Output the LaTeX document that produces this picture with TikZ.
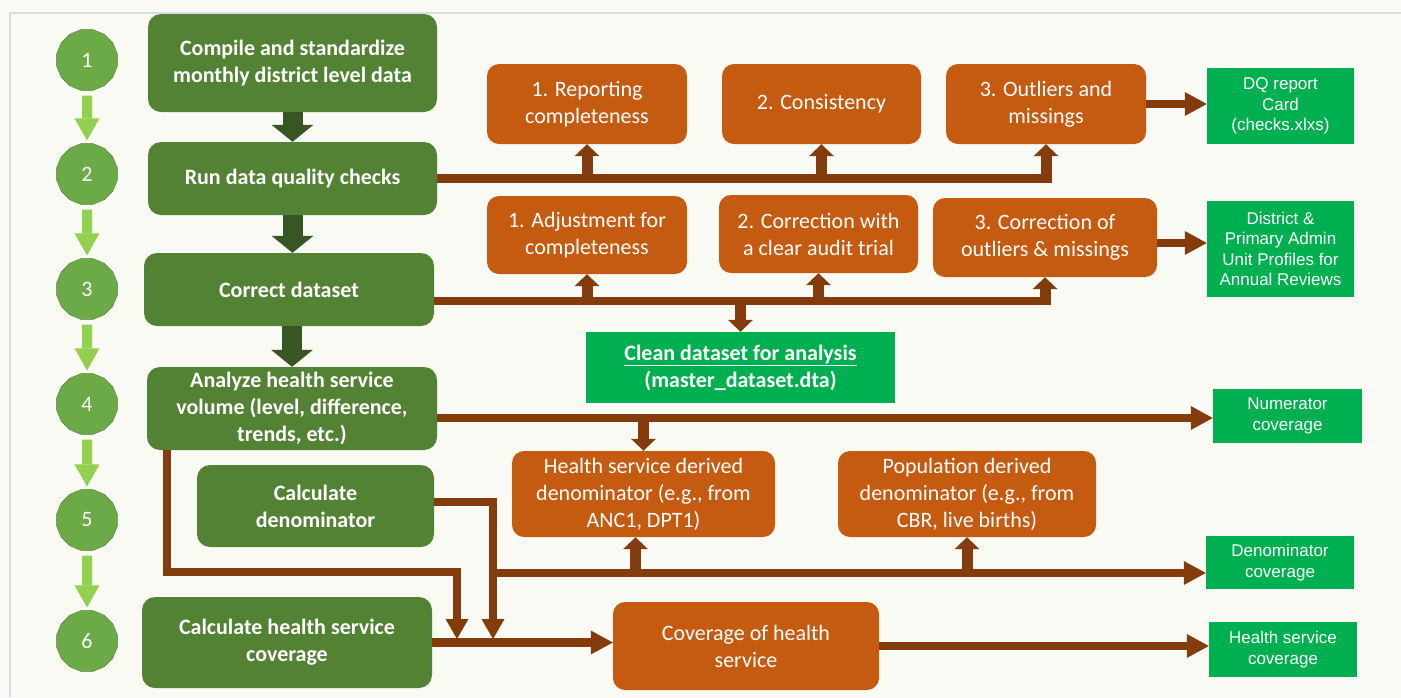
\documentclass[tikz,border=0pt]{standalone}
\usepackage{fontspec}
\setmainfont{Carlito}
\newfontfamily\arialfont{Liberation Sans}
\usetikzlibrary{arrows.meta,shapes.geometric,positioning}

\definecolor{paper}{RGB}{250,250,245}
\definecolor{frameline}{RGB}{214,220,229}
\definecolor{stepgreen}{RGB}{84,130,53}
\definecolor{darkgreen}{RGB}{55,86,35}
\definecolor{numgreen}{RGB}{108,170,72}
\definecolor{lightgreen}{RGB}{146,208,80}
\definecolor{chkorange}{RGB}{197,90,17}
\definecolor{pipebrown}{RGB}{132,60,12}
\definecolor{outgreen}{RGB}{0,176,80}

\begin{document}
\begin{tikzpicture}[
x=1pt, y=-1pt,
stepbox/.style={fill=stepgreen, text=white, rounded corners=13pt, align=center,
    inner sep=0pt, font=\fontsize{22}{27}\selectfont\bfseries},
numcirc/.style={regular polygon, regular polygon sides=16, minimum size=62pt,
    inner sep=0pt, fill=numgreen, draw=stepgreen, text=white, font=\fontsize{22}{26}\selectfont},
check/.style={fill=chkorange, text=white, rounded corners=12pt, align=center,
    inner sep=0pt, font=\fontsize{22}{27}\selectfont},
result/.style={fill=outgreen, text=white, align=center, inner sep=0pt,
    font=\arialfont\fontsize{17}{20.5}\selectfont},
steparrow/.style={draw=lightgreen, line width=10pt, shorten <=5pt, shorten >=3pt,
    -{Triangle[width=25pt,length=22pt,line width=0pt]}},
fatarrow/.style={draw=darkgreen, line width=20pt,
    -{Triangle[width=42pt,length=17pt,line width=0pt]}},
pipe/.style={draw=pipebrown, line width=8.5pt},
bigtip/.style={-{Triangle[width=24pt,length=22pt,line width=0pt]}},
midtip/.style={-{Triangle[width=23pt,length=20pt,line width=0pt]}},
tap/.style={draw=pipebrown, line width=11pt, -{Triangle[width=25pt,length=12pt,line width=0pt]}},
]

\fill[paper] (0,0) rectangle (1401,697);
\useasboundingbox (0,0) rectangle (1401,697);
\draw[frameline, line width=1.5pt] (10,697) -- (10,13) -- (1401,13);

\node[numcirc] (N1) at (87,60) {1};
\node[numcirc] (N2) at (87,174) {2};
\node[numcirc] (N3) at (87,289) {3};
\node[numcirc] (N4) at (87,404) {4};
\node[numcirc] (N5) at (87,520) {5};
\node[numcirc] (N6) at (87,641) {6};
\draw[steparrow] (N1) -- (N2);
\draw[steparrow] (N2) -- (N3);
\draw[steparrow] (N3) -- (N4);
\draw[steparrow] (N4) -- (N5);
\draw[steparrow] (N5) -- (N6);

\node[stepbox, minimum width=289pt, minimum height=98pt] (S1) at (292.5,63)
    {Compile and standardize\\monthly district level data};
\node[stepbox, minimum width=289pt, minimum height=73pt] (S2) at (292.5,178.5)
    {Run data quality checks};
\node[stepbox, minimum width=290pt, minimum height=73pt] (S3) at (289,289.5)
    {Correct dataset};
\node[stepbox, minimum width=290pt, minimum height=83pt] (S4) at (292,408.5)
    {Analyze health service\\volume (level, difference,\\trends, etc.)};
\node[stepbox, minimum width=237pt, minimum height=82pt] (S5) at (315.5,506)
    {Calculate\\denominator};
\node[stepbox, minimum width=290pt, minimum height=91pt] (S6) at (287,642.5)
    {Calculate health service\\coverage};
\draw[fatarrow] (S1) -- (S2);
\draw[fatarrow] (S2.south) -- (S2.south |- S3.north);
\draw[fatarrow] (S3.south -| S4.north) -- (S4.north);

\node[check, minimum width=200pt, minimum height=80pt] (X1) at (587,104) {1. Reporting\\completeness};
\node[check, minimum width=199pt, minimum height=80pt] (X2) at (821.5,104) {2. Consistency};
\node[check, minimum width=200pt, minimum height=80pt] (X3) at (1046,104) {3. Outliers and\\missings};
\node[check, minimum width=200pt, minimum height=78pt] (X4) at (587,235) {1. Adjustment for\\completeness};
\node[check, minimum width=199pt, minimum height=78pt] (X5) at (818.5,234) {2. Correction with\\a clear audit trial};
\node[check, minimum width=224pt, minimum height=79pt] (X6) at (1045,237.5) {3. Correction of\\outliers \& missings};
\node[check, minimum width=263pt, minimum height=86pt] (D1) at (643.5,494)
    {Health service derived\\denominator (e.g., from\\ANC1, DPT1)};
\node[check, minimum width=258pt, minimum height=86pt] (D2) at (967,494)
    {Population derived\\denominator (e.g., from\\CBR, live births)};
\node[check, minimum width=266pt, minimum height=88pt] (V) at (746,646) {Coverage of health\\service};

\node[fill=outgreen, text=white, align=center, inner sep=0pt, minimum width=309pt, minimum height=71pt,
    font=\fontsize{22}{27}\selectfont\bfseries] (CD) at (740.5,367.5)
    {\underline{Clean dataset for analysis}\\(master\_dataset.dta)};

\node[result, minimum width=147pt, minimum height=76pt] (G1) at (1280.5,106) {DQ report\\Card\\(checks.xlxs)};
\node[result, minimum width=147pt, minimum height=96pt] (G2) at (1280.5,249)
    {District \&\\Primary Admin\\Unit Profiles for\\Annual Reviews};
\node[result, minimum width=149pt, minimum height=54pt] (G3) at (1287.5,416) {Numerator\\coverage};
\node[result, minimum width=148pt, minimum height=53pt] (G4) at (1280,562.5) {Denominator\\coverage};
\node[result, minimum width=148pt, minimum height=55pt] (G5) at (1283,649.5) {Health service\\coverage};

\coordinate (r2) at ([yshift=-11.5pt]S3.east);
\coordinate (r3) at ([yshift=-9.5pt]S4.east);
\coordinate (r4) at ([yshift=4pt]S5.east);
\coordinate (r6) at ([yshift=-5.5pt]X6.east);
\coordinate (k0) at (167,572);
\coordinate (k1) at (457,572);
\coordinate (k2) at (493,573);
\coordinate (t1) at (457,639);
\coordinate (t2) at (493,639);

\draw[pipe] (S2.east) -- (S2.east -| X3.south) -- ++(5.5,0);
\draw[tap] (S2.east -| X1.south) -- (X1.south);
\draw[tap] (S2.east -| X2.south) -- (X2.south);
\draw[tap] (S2.east -| X3.south) -- (X3.south);
\draw[pipe, bigtip] (X3.east) -- (X3.east -| G1.west);

\draw[pipe] (r2) -- (r2 -| X6.south) -- ++(5.5,0);
\draw[tap] (r2 -| X4.south) -- (X4.south);
\draw[tap] (r2 -| X5.south) -- (X5.south);
\draw[tap] (r2 -| X6.south) -- (X6.south);
\draw[tap] (r2 -| CD.north) -- (CD.north);
\draw[pipe, bigtip] (r6) -- (r6 -| G2.west);

\draw[pipe, bigtip] (r3) -- (r3 -| G3.west);
\draw[tap] (r3 -| D1.north) -- (D1.north);

\draw[pipe, midtip] (r4) -| (t2);
\draw[pipe, bigtip] (k2) -- (k2 -| G4.west);
\draw[tap] ([xshift=-8pt]k2 -| D1.south) -- ([xshift=-8pt]D1.south);
\draw[tap] (k2 -| D2.south) -- (D2.south);
\draw[pipe, midtip] (k0 |- S4.south) -- (k0) -- (k1) -- (t1);

\draw[pipe, bigtip] (S6.east) -- (S6.east -| V.west);
\draw[pipe, bigtip] (V.east) -- (V.east -| G5.west);

\end{tikzpicture}
\end{document}
